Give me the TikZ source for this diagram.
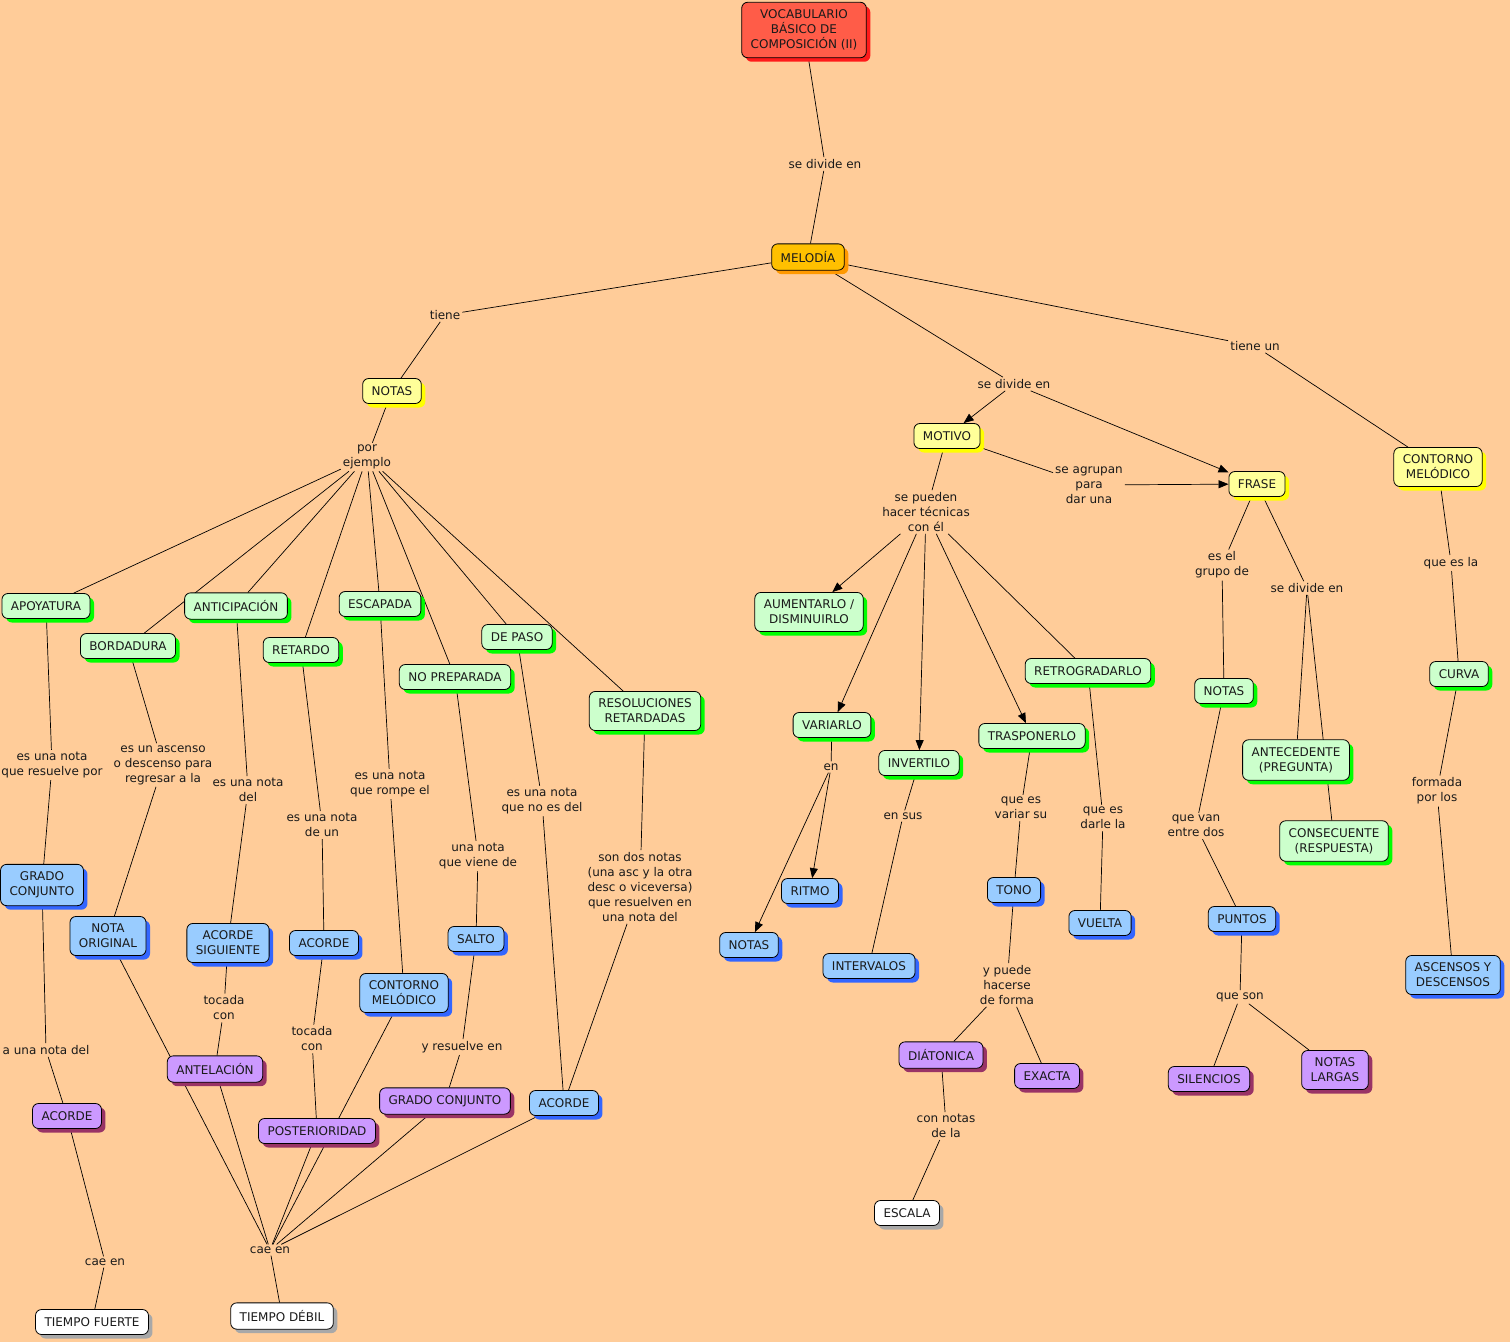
\documentclass[tikz,border=0pt]{standalone}
\usepackage{fontspec}
\setmainfont{DejaVu Sans}
\usetikzlibrary{shadows,arrows.meta,backgrounds}
\definecolor{bg}{HTML}{FFCC99}
\definecolor{cred}{HTML}{FF5C48}
\definecolor{sred}{HTML}{FF1A1A}
\definecolor{corange}{HTML}{FFC000}
\definecolor{sorange}{HTML}{FF9900}
\definecolor{cyellow}{HTML}{FFFF99}
\definecolor{syellow}{HTML}{FFFF00}
\definecolor{cgreen}{HTML}{CCFFCC}
\definecolor{sgreen}{HTML}{00FF00}
\definecolor{cblue}{HTML}{99CCFF}
\definecolor{sblue}{HTML}{3366FF}
\definecolor{cpurple}{HTML}{CC99FF}
\definecolor{spurple}{HTML}{993366}
\definecolor{cwhite}{HTML}{FFFFFF}
\definecolor{swhite}{HTML}{A8A8A8}
\definecolor{txt}{HTML}{1A1A1A}
\begin{document}
\begin{tikzpicture}[x=1pt,y=-1pt,
  font=\fontsize{12}{15}\selectfont,
  concept/.style={draw=black, rounded corners=6pt, line width=0.8pt, align=center,
    inner xsep=9pt, inner ysep=7.5pt, minimum height=25pt, text=txt,
    fill=c#1, drop shadow={shadow xshift=4pt, shadow yshift=-4pt, fill=s#1, opacity=1}},
  lnk/.style={align=center, inner sep=2pt, text=txt},
  ln/.style={line width=0.7pt, draw=black},
  arr/.style={ln, -{Triangle[length=10pt,width=8pt]}}]
\useasboundingbox (0,0) rectangle (1510,1342);
% concepts
\node[concept=red] (v) at (804,30) {VOCABULARIO\\BÁSICO DE\\COMPOSICIÓN (II)};
\node[concept=orange] (mel) at (808,257) {MELODÍA};
\node[concept=yellow] (notas) at (392,391) {NOTAS};
\node[concept=yellow] (motivo) at (947,436) {MOTIVO};
\node[concept=yellow] (frase) at (1257,484) {FRASE};
\node[concept=yellow] (contY) at (1438,467) {CONTORNO\\MELÓDICO};
\node[concept=green] (apoy) at (46,606) {APOYATURA};
\node[concept=green] (antic) at (236,606) {ANTICIPACIÓN};
\node[concept=green] (bord) at (128,646) {BORDADURA};
\node[concept=green] (ret) at (301,650) {RETARDO};
\node[concept=green] (esc) at (380,604) {ESCAPADA};
\node[concept=green] (noprep) at (455,677) {NO PREPARADA};
\node[concept=green] (depaso) at (517,637) {DE PASO};
\node[concept=green] (resol) at (645,711) {RESOLUCIONES\\RETARDADAS};
\node[concept=green] (aum) at (809,612) {AUMENTARLO /\\DISMINUIRLO};
\node[concept=green] (var) at (832,725) {VARIARLO};
\node[concept=green] (inv) at (919,763) {INVERTILO};
\node[concept=green] (tras) at (1032,736) {TRASPONERLO};
\node[concept=green] (retro) at (1088,671) {RETROGRADARLO};
\node[concept=green] (notasG) at (1224,691) {NOTAS};
\node[concept=green] (antec) at (1296,760) {ANTECEDENTE\\(PREGUNTA)};
\node[concept=green] (consec) at (1334,841) {CONSECUENTE\\(RESPUESTA)};
\node[concept=green] (curva) at (1459,674) {CURVA};
\node[concept=blue] (gradoB) at (42,885) {GRADO\\CONJUNTO};
\node[concept=blue] (notaorig) at (108,936) {NOTA\\ORIGINAL};
\node[concept=blue] (acsig) at (228,943) {ACORDE\\SIGUIENTE};
\node[concept=blue] (acB1) at (324,943) {ACORDE};
\node[concept=blue] (contB) at (404,993) {CONTORNO\\MELÓDICO};
\node[concept=blue] (salto) at (476,939) {SALTO};
\node[concept=blue] (acB2) at (564,1103) {ACORDE};
\node[concept=blue] (ritmo) at (810,891) {RITMO};
\node[concept=blue] (notasB) at (749,945) {NOTAS};
\node[concept=blue] (interv) at (869,966) {INTERVALOS};
\node[concept=blue] (tono) at (1014,890) {TONO};
\node[concept=blue] (vuelta) at (1100,923) {VUELTA};
\node[concept=blue] (puntos) at (1242,919) {PUNTOS};
\node[concept=blue] (asc) at (1453,975) {ASCENSOS Y\\DESCENSOS};
\node[concept=purple] (acP) at (67,1116) {ACORDE};
\node[concept=purple] (antel) at (215,1069) {ANTELACIÓN};
\node[concept=purple] (poster) at (317,1131) {POSTERIORIDAD};
\node[concept=purple] (gradoP) at (445,1101) {GRADO CONJUNTO};
\node[concept=purple] (diat) at (941,1055) {DIÁTONICA};
\node[concept=purple] (exacta) at (1047,1076) {EXACTA};
\node[concept=purple] (silen) at (1209,1079) {SILENCIOS};
\node[concept=purple] (notasL) at (1335,1070) {NOTAS\\LARGAS};
\node[concept=white] (tf) at (92,1322) {TIEMPO FUERTE};
\node[concept=white] (td) at (282,1316) {TIEMPO DÉBIL};
\node[concept=white] (escala) at (907,1213) {ESCALA};
% linking phrases
\node[lnk] (l1) at (825,164) {se divide en};
\node[lnk] (l2) at (445,315) {tiene};
\node[lnk] (l3) at (367,457) {por\\ejemplo};
\node[lnk] (l4) at (1014,384) {se divide en};
\node[lnk] (l5) at (1255,346) {tiene un};
\node[lnk] (l6) at (926,512) {se pueden\\hacer técnicas\\con él};
\node[lnk] (l7) at (1089,485) {se agrupan\\para\\dar una};
\node[lnk] (l8) at (1222,565) {es el\\grupo de};
\node[lnk] (l9) at (1307,588) {se divide en};
\node[lnk] (l10) at (1451,563) {que es la};
\node[lnk] (l11) at (52,765) {es una nota\\que resuelve por};
\node[lnk] (l12) at (163,765) {es un ascenso\\o descenso para\\regresar a la};
\node[lnk] (l13) at (248,790) {es una nota\\del};
\node[lnk] (l14) at (322,825) {es una nota\\de un};
\node[lnk] (l15) at (390,784) {es una nota\\que rompe el};
\node[lnk] (l16) at (478,856) {una nota\\que viene de};
\node[lnk] (l17) at (542,801) {es una nota\\que no es del};
\node[lnk] (l18) at (640,887) {son dos notas\\(una asc y la otra\\desc o viceversa)\\que resuelven en\\una nota del};
\node[lnk] (l19) at (831,767) {en};
\node[lnk] (l20) at (903,816) {en sus};
\node[lnk] (l21) at (1021,808) {que es\\variar su};
\node[lnk] (l22) at (1103,818) {que es\\darle la};
\node[lnk] (l23) at (1196,826) {que van\\entre dos};
\node[lnk] (l24) at (1437,791) {formada\\por los};
\node[lnk] (l25) at (46,1050) {a una nota del};
\node[lnk] (l26) at (224,1008) {tocada\\con};
\node[lnk] (l27) at (312,1039) {tocada\\con};
\node[lnk] (l28) at (462,1047) {y resuelve en};
\node[lnk] (l29) at (105,1262) {cae en};
\node[lnk] (l30) at (270,1250) {cae en};
\node[lnk] (l31) at (1007,985) {y puede\\hacerse\\de forma};
\node[lnk] (l32) at (946,1126) {con notas\\de la};
\node[lnk] (l33) at (1240,997) {que son};
\begin{pgfonlayer}{background}
\fill[bg] (0,0) rectangle (1510,1342);
\draw[ln] (v) -- (l1); \draw[ln] (l1) -- (mel);
\draw[ln] (mel) -- (l2); \draw[ln] (l2) -- (notas);
\draw[ln] (mel) -- (l4); \draw[arr] (l4) -- (motivo); \draw[arr] (l4) -- (frase);
\draw[ln] (mel) -- (l5); \draw[ln] (l5) -- (contY);
\draw[ln] (notas) -- (l3);
\foreach \t in {apoy,bord,antic,ret,esc,noprep,depaso,resol} \draw[ln] (l3) -- (\t);
\draw[ln] (apoy) -- (l11); \draw[ln] (l11) -- (gradoB); \draw[ln] (gradoB) -- (l25);
\draw[ln] (l25) -- (acP); \draw[ln] (acP) -- (l29); \draw[ln] (l29) -- (tf);
\draw[ln] (bord) -- (l12); \draw[ln] (l12) -- (notaorig); \draw[ln] (notaorig) -- (l30);
\draw[ln] (antic) -- (l13); \draw[ln] (l13) -- (acsig); \draw[ln] (acsig) -- (l26);
\draw[ln] (l26) -- (antel); \draw[ln] (antel) -- (l30);
\draw[ln] (ret) -- (l14); \draw[ln] (l14) -- (acB1); \draw[ln] (acB1) -- (l27);
\draw[ln] (l27) -- (poster); \draw[ln] (poster) -- (l30);
\draw[ln] (esc) -- (l15); \draw[ln] (l15) -- (contB); \draw[ln] (contB) -- (l30);
\draw[ln] (noprep) -- (l16); \draw[ln] (l16) -- (salto); \draw[ln] (salto) -- (l28);
\draw[ln] (l28) -- (gradoP); \draw[ln] (gradoP) -- (l30);
\draw[ln] (depaso) -- (l17); \draw[ln] (l17) -- (acB2);
\draw[ln] (resol) -- (l18); \draw[ln] (l18) -- (acB2); \draw[ln] (acB2) -- (l30);
\draw[ln] (l30) -- (td);
\draw[ln] (motivo) -- (l6);
\draw[arr] (l6) -- (aum); \draw[arr] (l6) -- (var); \draw[arr] (l6) -- (inv);
\draw[arr] (l6) -- (tras); \draw[ln] (l6) -- (retro);
\draw[ln] (motivo) -- (l7); \draw[arr] (l7) -- (frase);
\draw[ln] (var) -- (l19); \draw[arr] (l19) -- (ritmo); \draw[arr] (l19) -- (notasB);
\draw[ln] (inv) -- (l20); \draw[ln] (l20) -- (interv);
\draw[ln] (tras) -- (l21); \draw[ln] (l21) -- (tono); \draw[ln] (tono) -- (l31);
\draw[ln] (l31) -- (diat); \draw[ln] (l31) -- (exacta);
\draw[ln] (diat) -- (l32); \draw[ln] (l32) -- (escala);
\draw[ln] (retro) -- (l22); \draw[ln] (l22) -- (vuelta);
\draw[ln] (frase) -- (l8); \draw[ln] (l8) -- (notasG); \draw[ln] (notasG) -- (l23);
\draw[ln] (l23) -- (puntos); \draw[ln] (puntos) -- (l33);
\draw[ln] (l33) -- (silen); \draw[ln] (l33) -- (notasL);
\draw[ln] (frase) -- (l9); \draw[ln] (l9) -- (antec); \draw[ln] (l9) -- (consec);
\draw[ln] (contY) -- (l10); \draw[ln] (l10) -- (curva); \draw[ln] (curva) -- (l24);
\draw[ln] (l24) -- (asc);
\end{pgfonlayer}
\end{tikzpicture}
\end{document}
